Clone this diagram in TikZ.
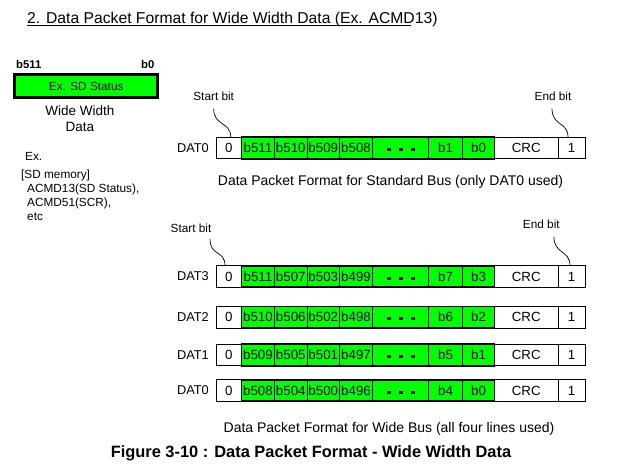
\documentclass[tikz,border=0pt]{standalone}
\usepackage{fontspec}
\setmainfont{Liberation Sans}
\usetikzlibrary{calc}
\definecolor{pktgreen}{RGB}{0,255,0}
\newcommand\fs[1]{\fontsize{#1}{#1}\selectfont}
\tikzset{
  cellbox/.style={draw=black, line width=0.8pt, inner sep=0pt, outer sep=0pt, minimum height=21.5pt, font=\fs{13.3}},
  wcell/.style={cellbox, fill=white},
  gcell/.style={cellbox, fill=pktgreen},
  datlbl/.style={anchor=east, inner sep=0pt, font=\fs{12.8}},
  smalltext/.style={inner sep=0pt, font=\fs{11.8}},
  captext/.style={inner sep=0pt, font=\fs{14}},
  squig/.style={line width=0.7pt},
}
% #1 name, #2 y, #3 DAT label, #4-#7 first four green labels, #8 #9 last two
\newcommand\pktrow[9]{%
  \node[datlbl] (#1-lbl) at (209,#2) {#3};
  \node[wcell, minimum width=25.5pt] (#1-s) at (228.75,#2) {0};
  \node[gcell, minimum width=33pt]   (#1-a) at (258,#2) {#4};
  \node[gcell, minimum width=32.5pt] (#1-b) at (290.75,#2) {#5};
  \node[gcell, minimum width=32.5pt] (#1-c) at (323.25,#2) {#6};
  \node[gcell, minimum width=33pt]   (#1-d) at (356,#2) {#7};
  \node[gcell, minimum width=56pt]   (#1-m) at (400.5,#2) {};
  \node[gcell, minimum width=34pt]   (#1-e) at (445.5,#2) {#8};
  \node[gcell, minimum width=32pt]   (#1-f) at (478.5,#2) {#9};
  \node[wcell, minimum width=63.5pt] (#1-crc) at (526.25,#2) {CRC};
  \node[wcell, minimum width=27pt]   (#1-end) at (571.5,#2) {1};
  \draw[line width=1.8pt] (#1-a.north west) rectangle (#1-f.south east);
  \foreach \dx in {-12,0,12} {
    \fill ($(#1-m.center)+(\dx,1.5)+(-2,-1.5)$) rectangle ++(4,3);
  }
}
\begin{document}
\begin{tikzpicture}[x=1pt, y=-1pt]
\useasboundingbox (0,0) rectangle (618,474);
\fill[white] (0,0) rectangle (618,474);

% title
\node[anchor=base west, inner sep=0pt, font=\fs{15.7}] (title) at (27,23) {2. Data Packet Format for Wide Width Data (Ex. ACMD13)};
\draw[line width=0.8pt] (27,25.8) -- (411,25.8);

% left block
\node[anchor=west, inner sep=0pt, font=\fs{11.3}\bfseries] (bhi) at (16,64.5) {b511};
\node[anchor=east, inner sep=0pt, font=\fs{11.3}\bfseries] (blo) at (154.5,64.5) {b0};
\node[draw=black, fill=pktgreen, line width=2.8pt, minimum width=143pt, minimum height=23pt, inner sep=0pt, font=\fs{11.8}] (sdstat) at (86.2,86.2) {Ex. SD Status};
\node[inner sep=0pt, font=\fs{13.5}, align=center] (wwd) at (80,118.5) {Wide Width\\[2pt]Data};
\node[smalltext, anchor=west] (ex) at (25,156) {Ex.};
\node[smalltext, anchor=west] (sdm) at (21,175) {[SD memory]};
\node[smalltext, anchor=west] (a13) at (27,189) {ACMD13(SD Status),};
\node[smalltext, anchor=west] (a51) at (27,203) {ACMD51(SCR),};
\node[smalltext, anchor=west] (etc) at (27,217) {etc};

% standard bus
\node[smalltext] (sb1) at (213.7,96) {Start bit};
\node[smalltext] (eb1) at (553,96) {End bit};
\pktrow{std}{148}{DAT0}{b511}{b510}{b509}{b508}{b1}{b0}
\draw[squig] ([yshift=-8pt]sb1.south) .. controls +(0,18) and +(0,-16) .. ([xshift=2pt]std-s.north);
\draw[squig] ([xshift=-1pt,yshift=-8pt]eb1.south) .. controls +(0,18) and +(0,-16) .. ([xshift=-3.5pt]std-end.north);
\node[captext] (cap1) at (390.5,182) {Data Packet Format for Standard Bus (only DAT0 used)};

% wide bus
\node[smalltext] (sb2) at (191,228.3) {Start bit};
\node[smalltext] (eb2) at (541.3,224) {End bit};
\pktrow{d3}{276.5}{DAT3}{b511}{b507}{b503}{b499}{b7}{b3}
\pktrow{d2}{317.2}{DAT2}{b510}{b506}{b502}{b498}{b6}{b2}
\pktrow{d1}{355}{DAT1}{b509}{b505}{b501}{b497}{b5}{b1}
\pktrow{d0}{390.5}{DAT0}{b508}{b504}{b500}{b496}{b4}{b0}
\draw[squig] ([xshift=-1.5pt,yshift=-6pt]sb2.south east) .. controls +(0,18) and +(0,-16) .. ([xshift=-3.75pt]d3-s.north);
\draw[squig] ([xshift=-6pt,yshift=-8pt]eb2.south east) .. controls +(0,18) and +(0,-16) .. ([xshift=-1.5pt]d3-end.north);
\node[captext] (cap2) at (389,429.3) {Data Packet Format for Wide Bus (all four lines used)};

% figure caption
\node[inner sep=0pt, font=\fs{16.4}\bfseries] (figcap) at (311,453.3) {Figure 3-10 : Data Packet Format - Wide Width Data};
\end{tikzpicture}
\end{document}
